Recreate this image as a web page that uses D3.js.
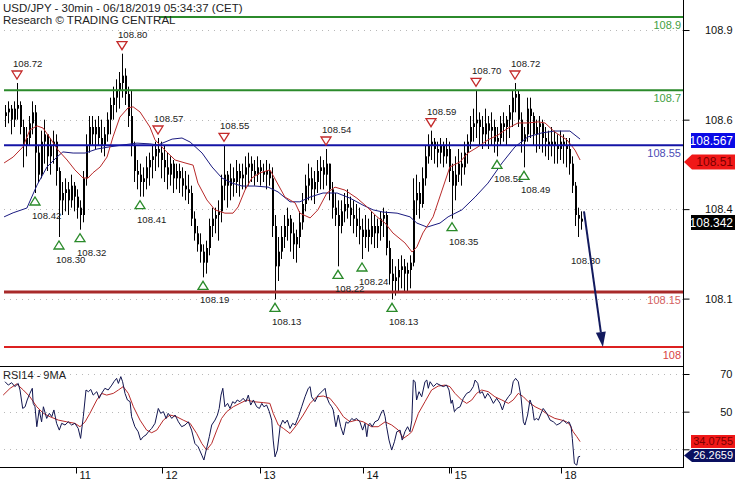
<!DOCTYPE html>
<html><head><meta charset="utf-8">
<script src="https://cdn.jsdelivr.net/npm/d3@7"></script>
<style>body{margin:0;background:#fff;} svg{display:block;font-family:"Liberation Sans",Arial,sans-serif;}</style>
</head><body><svg id="c" width="735" height="480"></svg>
<script>
// ---------- DATA ----------
const highs=[108.66,108.67,108.66,108.67,108.72,108.67,108.62,108.60,108.63,108.67,
108.66,108.55,108.59,108.62,108.58,108.57,108.59,108.58,108.49,108.45,
108.46,108.45,108.47,108.45,108.43,108.40,108.48,108.58,108.63,108.63,
108.62,108.63,108.62,108.60,108.64,108.68,108.71,108.73,108.75,108.80,
108.76,108.71,108.70,108.56,108.51,108.50,108.49,108.52,108.53,108.55,
108.56,108.57,108.56,108.55,108.53,108.52,108.51,108.50,108.50,108.49,
108.48,108.47,108.44,108.37,108.33,108.31,108.28,108.29,108.35,108.38,
108.38,108.40,108.47,108.55,108.48,108.50,108.49,108.51,108.50,108.50,
108.52,108.53,108.52,108.51,108.52,108.51,108.50,108.51,108.50,108.49,
108.36,108.30,108.33,108.36,108.38,108.36,108.34,108.32,108.37,108.42,
108.47,108.50,108.49,108.48,108.51,108.52,108.51,108.54,108.50,108.45,
108.42,108.40,108.40,108.42,108.43,108.41,108.40,108.39,108.38,108.35,
108.36,108.35,108.37,108.36,108.35,108.37,108.38,108.37,108.29,108.24,
108.22,108.24,108.25,108.24,108.23,108.25,108.46,108.47,108.45,108.49,
108.55,108.58,108.59,108.57,108.56,108.57,108.56,108.57,108.56,108.50,
108.52,108.54,108.53,108.56,108.58,108.63,108.65,108.70,108.64,108.63,
108.65,108.63,108.64,108.62,108.60,108.63,108.64,108.63,108.66,108.70,
108.72,108.70,108.64,108.60,108.68,108.68,108.64,108.62,108.63,108.62,
108.60,108.59,108.60,108.59,108.58,108.59,108.58,108.57,108.57,108.52,
108.45,108.38,108.37];
const lows=[108.60,108.61,108.58,108.60,108.62,108.58,108.49,108.52,108.55,108.58,
108.42,108.45,108.46,108.50,108.48,108.47,108.50,108.44,108.30,108.36,
108.37,108.36,108.38,108.37,108.35,108.32,108.34,108.44,108.53,108.55,
108.54,108.55,108.53,108.52,108.56,108.58,108.62,108.64,108.65,108.68,
108.66,108.60,108.52,108.45,108.43,108.41,108.41,108.43,108.44,108.46,
108.48,108.49,108.46,108.45,108.43,108.44,108.42,108.43,108.42,108.41,
108.40,108.39,108.33,108.29,108.26,108.23,108.19,108.20,108.25,108.30,
108.31,108.29,108.34,108.40,108.38,108.40,108.41,108.42,108.41,108.43,
108.43,108.44,108.45,108.44,108.45,108.44,108.45,108.43,108.44,108.30,
108.13,108.18,108.24,108.27,108.29,108.26,108.24,108.23,108.27,108.32,
108.37,108.40,108.40,108.39,108.42,108.43,108.43,108.44,108.40,108.35,
108.33,108.22,108.31,108.34,108.35,108.33,108.31,108.30,108.28,108.24,
108.27,108.26,108.28,108.27,108.27,108.29,108.30,108.25,108.17,108.13,
108.14,108.15,108.16,108.15,108.15,108.16,108.22,108.36,108.35,108.38,
108.44,108.50,108.51,108.50,108.49,108.50,108.49,108.50,108.45,108.35,
108.40,108.45,108.44,108.47,108.50,108.54,108.56,108.57,108.55,108.54,
108.55,108.54,108.55,108.53,108.52,108.55,108.56,108.55,108.57,108.60,
108.64,108.60,108.53,108.49,108.56,108.57,108.55,108.53,108.54,108.53,
108.52,108.51,108.52,108.50,108.50,108.51,108.50,108.49,108.47,108.42,
108.33,108.30,108.32];
const closes=[108.64,108.65,108.62,108.65,108.66,108.60,108.55,108.57,108.61,108.64,
108.53,108.47,108.56,108.58,108.52,108.55,108.56,108.48,108.40,108.42,
108.43,108.40,108.44,108.41,108.38,108.36,108.46,108.55,108.60,108.58,
108.60,108.57,108.55,108.58,108.62,108.66,108.68,108.70,108.72,108.74,
108.69,108.63,108.55,108.48,108.47,108.45,108.46,108.49,108.51,108.52,
108.54,108.53,108.51,108.49,108.47,108.50,108.46,108.48,108.46,108.44,
108.43,108.42,108.35,108.31,108.28,108.26,108.23,108.27,108.33,108.35,
108.36,108.37,108.44,108.47,108.44,108.46,108.45,108.48,108.46,108.47,
108.49,108.50,108.48,108.47,108.49,108.48,108.47,108.48,108.46,108.33,
108.22,108.26,108.30,108.33,108.35,108.31,108.28,108.30,108.34,108.39,
108.44,108.46,108.43,108.45,108.48,108.49,108.47,108.50,108.43,108.38,
108.36,108.33,108.37,108.39,108.38,108.36,108.35,108.33,108.32,108.30,
108.32,108.30,108.33,108.31,108.33,108.35,108.36,108.27,108.20,108.18,
108.19,108.21,108.22,108.20,108.21,108.23,108.40,108.42,108.39,108.46,
108.52,108.55,108.56,108.54,108.53,108.55,108.52,108.54,108.48,108.44,
108.47,108.50,108.49,108.53,108.56,108.60,108.61,108.62,108.60,108.58,
108.61,108.59,108.60,108.56,108.57,108.61,108.60,108.62,108.64,108.68,
108.69,108.62,108.56,108.58,108.65,108.63,108.58,108.60,108.61,108.57,
108.56,108.55,108.56,108.55,108.54,108.56,108.55,108.54,108.50,108.44,
108.36,108.35,108.342];
const firstOpen=108.63;

const maRed=[[-0.3,108.502],[2.7,108.518],[6,108.546],[8.3,108.592],[10.7,108.603],[12.7,108.597],[15,108.570],[17.7,108.537],[20.7,108.510],[23.3,108.483],[26,108.461],[27.7,108.461],[29.3,108.475],[31.7,108.491],[34,108.518],[36,108.573],[38.3,108.627],[41,108.652],[42.7,108.655],[45,108.641],[48.3,108.600],[50,108.565],[53.3,108.537],[56.7,108.510],[60,108.502],[62.7,108.496],[64.3,108.447],[67.3,108.401],[70,108.374],[73.3,108.365],[76,108.365],[77.7,108.382],[80,108.428],[82.3,108.461],[85,108.475],[88.3,108.483],[89.3,108.469],[93.3,108.409],[96.7,108.393],[98.3,108.365],[101.7,108.352],[104.3,108.374],[107.3,108.420],[110,108.436],[113.3,108.428],[117.3,108.406],[120.7,108.382],[124,108.355],[126.7,108.338],[129.3,108.311],[133.3,108.284],[135.7,108.259],[137.3,108.273],[139.3,108.311],[142.7,108.355],[145.7,108.428],[148.3,108.491],[151.7,108.505],[154.3,108.529],[157.7,108.546],[161,108.565],[164.3,108.578],[167.7,108.597],[171,108.611],[174.3,108.611],[177.7,108.614],[180,108.611],[183.3,108.586],[187.3,108.565],[190,108.537],[191.7,108.510]];
const maBlue=[[-0.3,108.355],[2.7,108.366],[7.3,108.379],[10.7,108.442],[14,108.491],[17.3,108.518],[19.3,108.532],[22.7,108.529],[26.7,108.529],[30.7,108.540],[35,108.546],[39.3,108.551],[44,108.556],[48.3,108.554],[51,108.551],[55.7,108.567],[59,108.570],[61.7,108.559],[65.7,108.529],[69,108.491],[72.3,108.461],[75.7,108.447],[79,108.439],[83.3,108.439],[87.7,108.436],[91,108.423],[95,108.396],[98.3,108.396],[101.7,108.409],[106,108.420],[110.7,108.420],[115,108.406],[119.3,108.387],[122.7,108.374],[126,108.368],[130.7,108.365],[135,108.355],[137.3,108.338],[140.7,108.327],[145,108.338],[147.7,108.355],[152.3,108.374],[156.7,108.409],[161,108.447],[165.7,108.502],[170,108.546],[174.3,108.573],[179,108.584],[183.3,108.589],[188.3,108.589],[191.7,108.567]];

const rsi=[[0,65.9],[1.1,64.1],[2.2,65.4],[3.3,63.3],[4.4,65.0],[5,61.5],[5.9,51.7],[6.7,52.6],[7.4,56.2],[8.3,59.7],[9.1,62.4],[9.4,54.4],[10,52.6],[10.6,42.0],[11.4,50.9],[12.2,44.6],[12.8,52.6],[13.9,46.4],[14.8,49.1],[15.6,47.3],[16.3,50.9],[17.2,43.8],[18.1,40.2],[18.9,43.8],[20,42.9],[21.1,44.6],[22.2,42.9],[23.3,43.8],[24.4,41.1],[25.2,35.8],[26.1,47.3],[27,61.5],[27.8,60.6],[28.6,61.8],[29.4,58.8],[30.6,60.6],[31.4,57.1],[32.2,59.7],[33.3,62.4],[34.4,61.5],[35.6,64.1],[36.3,65.9],[37.2,67.7],[37.8,65.0],[38.6,68.6],[39.2,65.9],[40,59.7],[40.8,56.2],[41.7,55.3],[42.2,47.3],[43.3,42.0],[44.4,39.3],[45.2,34.9],[46.1,36.7],[47,37.6],[47.8,39.3],[48.9,41.1],[50,43.8],[51.1,51.7],[51.9,49.1],[52.8,50.0],[53.7,46.4],[54.4,49.1],[55.6,46.4],[56.7,48.2],[57.8,44.6],[58.9,42.0],[60,42.9],[61.1,44.6],[62.2,40.2],[63.3,33.1],[64.4,31.3],[65.6,26.9],[66.3,24.3],[67.2,30.5],[68.1,36.7],[68.9,42.9],[70,45.5],[70.8,48.2],[71.4,51.7],[72,58.8],[72.6,62.4],[73.3,52.6],[74.2,54.4],[75,51.7],[75.9,55.3],[76.7,54.4],[77.4,56.2],[78.3,55.3],[79.4,57.1],[80.3,55.3],[81.1,58.8],[81.9,53.5],[82.8,56.2],[83.9,52.6],[84.8,51.7],[85.6,54.4],[86.3,52.6],[87.2,53.5],[88.1,50.0],[88.9,45.5],[89.4,34.9],[90,26.0],[90.8,29.6],[91.7,42.0],[92.6,45.5],[93.3,43.8],[94.1,45.5],[95,41.1],[95.9,43.8],[96.7,42.9],[97.8,47.3],[98.9,52.6],[100,57.9],[101.1,62.4],[101.7,63.3],[102.2,57.9],[103.3,55.3],[104.4,58.8],[105.6,60.6],[106.7,62.4],[107.2,57.9],[108.1,54.4],[108.9,52.6],[109.4,50.9],[110.3,42.0],[111.1,48.2],[111.9,42.0],[112.8,37.6],[113.7,44.6],[114.4,43.8],[115.6,46.4],[116.3,45.5],[117.2,46.4],[118.3,44.6],[119.2,40.2],[120,43.8],[120.6,36.7],[121.1,42.9],[121.7,43.8],[122.4,42.0],[123.3,44.6],[124.4,45.5],[125.6,50.0],[126.1,50.9],[126.7,47.3],[127.2,42.0],[128,34.9],[128.9,29.6],[129.8,34.0],[130.6,39.3],[131.7,40.2],[132.4,34.9],[133.3,39.3],[134.2,42.0],[135,39.3],[135.6,45.5],[136.1,66.8],[136.7,65.9],[137.2,56.2],[138,60.6],[138.9,57.9],[140,65.9],[140.6,66.8],[141.1,62.4],[141.7,65.9],[142.8,63.3],[143.9,65.0],[145,64.1],[146.1,63.3],[147.2,64.1],[148,61.5],[148.7,54.4],[149.1,56.2],[149.8,50.0],[150.6,51.7],[151.7,52.6],[152.8,57.1],[153.9,59.7],[155,60.6],[156.1,63.3],[156.7,66.8],[157.6,65.0],[158.3,59.7],[159.1,60.6],[160,57.1],[160.9,59.7],[161.7,57.9],[162.8,54.4],[163.9,57.1],[165,54.4],[165.8,50.9],[166.7,55.3],[167.8,57.9],[168.7,59.7],[169.4,65.9],[170.2,67.7],[171.1,65.9],[172,57.9],[172.8,44.6],[173.3,42.9],[174.2,48.2],[175,56.2],[175.8,52.6],[176.4,45.5],[177.2,46.4],[177.8,45.5],[178.7,49.1],[179.4,51.7],[180.6,49.1],[181.7,45.5],[182.8,44.6],[183.9,42.9],[185,43.8],[186.1,45.5],[187.2,43.8],[188,44.6],[188.7,42.0],[189.1,35.8],[189.8,22.5],[190.6,21.6],[191.1,26.0],[191.7,26.27]];
const rsiMA=[[-0.6,58.8],[1.7,62.4],[3.9,64.7],[6.1,61.5],[8.3,57.9],[10.6,52.6],[12.8,49.1],[15,47.3],[17.8,45.5],[20.6,44.6],[23.3,43.8],[25,42.0],[26.7,44.6],[28.3,49.1],[30.6,56.2],[32.2,59.7],[33.9,58.8],[36.1,59.7],[37.8,61.5],[39.4,63.3],[41.1,59.7],[42.8,52.6],[45,45.5],[47.2,40.2],[48.9,38.8],[50.6,40.2],[52.8,45.5],[55,48.2],[57.2,47.3],[59.4,45.5],[61.7,43.8],[63.9,38.4],[65.6,33.1],[67.2,29.6],[68.9,33.1],[70.6,40.2],[72.2,46.4],[73.9,50.0],[76.1,52.6],[78.3,54.4],[80.6,56.2],[82.8,55.3],[86.1,54.8],[88.3,54.4],[89.4,49.1],[91.1,42.9],[92.8,41.1],[95,38.4],[97.2,42.9],[99.4,48.2],[101.7,54.4],[103.9,57.9],[106.1,58.3],[108.3,57.1],[110.6,52.6],[112.8,47.3],[115,44.6],[117.2,45.5],[119.4,44.6],[122.2,42.0],[124.4,42.0],[126.7,44.6],[128.9,42.9],[131.1,40.2],[132.8,35.8],[134.4,37.6],[135.6,39.3],[137.8,49.1],[140,55.3],[142.2,61.5],[144.4,63.6],[146.7,64.1],[148.3,63.3],[150,59.7],[152.2,56.2],[153.9,54.4],[155.6,56.2],[157.2,59.7],[158.9,61.5],[161.1,60.6],[163.3,57.9],[165.6,56.2],[167.8,54.4],[169.4,56.2],[171.1,59.7],[172.8,57.9],[174.4,55.3],[176.7,52.6],[178.9,50.9],[181.1,48.2],[183.3,46.4],[185.6,45.5],[187.2,44.6],[188.3,42.9],[189.4,39.3],[190.6,36.7],[191.7,34.08]];

const priceTicks=[108.8645,108.62,108.376,108.132];
const rsiTicks=[70,50,30];
const rsiTickLabels=["70","50",""];   // "30" is hidden behind the value boxes in the reference
const levels=[108.9,108.7,108.55,108.15,108];
const levelLabels=["108.9","108.7","108.55","108.15","108"];
const highMarks=[[4,108.72],[39,108.80],[51,108.57],[73,108.55],[107,108.54],[142,108.59],[157,108.70],[170,108.72]];
const lowMarks=[[10,108.42],[18,108.30],[25,108.32],[45,108.41],[66,108.19],[90,108.13],[111,108.22],[119,108.24],[129,108.13],[149,108.35],[164,108.52],[173,108.49]];
const lastLowLabel=[190,108.30];
const targetArrow=[[193,108.37],[199.3,108.0]];
const dayTicks=[23.67,52.33,85,119.33,148.67,185.33];
const dayLabels=["11","12","13","14","15","18"];
const gapTick=148;
const lastBlueMA=108.567, lastRedMA=108.51, lastClose=108.342;
const lastRsi=26.2659, lastRsiMA=34.0755;
const title1="USD/JPY - 30min - 06/18/2019 05:34:37 (CET)";
const title2="Research \u00A9 TRADING CENTRAL";

// ---------- STYLES ----------
const levelColors=["#2b8a2b","#2b8a2b","#1414a6","#a82a2a","#dc2020"];
const levelText=["#43a043","#43a043","#4b4bb5","#d46060","#d84545"];
const levelWidth=[2,2,2,3,2];

// ---------- DRAW ----------
const svg=d3.select("#c");
const x=d3.scaleLinear().domain([0,192]).range([5,581]);
const y=d3.scaleLinear().domain([108,108.9]).range([347,17]);
const ry=d3.scaleLinear().domain([30,70]).range([449.3,374]);
const AX=683;

// grid
svg.append("g").selectAll("line").data(priceTicks).join("line")
  .attr("x1",4).attr("x2",AX).attr("y1",d=>Math.round(y(d))+0.5).attr("y2",d=>Math.round(y(d))+0.5)
  .attr("stroke","#b8b8b8").attr("stroke-dasharray","1,5");
svg.append("g").selectAll("line").data(rsiTicks).join("line")
  .attr("x1",4).attr("x2",AX).attr("y1",d=>Math.round(ry(d))+0.5).attr("y2",d=>Math.round(ry(d))+0.5)
  .attr("stroke","#b8b8b8").attr("stroke-dasharray","1,5");

// bars
const opens=closes.map((c,i)=>i===0?firstOpen:closes[i-1]);
const bars=svg.append("g");
bars.selectAll("line").data(highs).join("line")
  .attr("x1",(d,i)=>Math.round(x(i))+0.5).attr("x2",(d,i)=>Math.round(x(i))+0.5)
  .attr("y1",d=>y(d)).attr("y2",(d,i)=>y(lows[i])).attr("stroke","#000").attr("stroke-width",1);
bars.selectAll("rect").data(closes).join("rect")
  .attr("x",(d,i)=>Math.round(x(i))).attr("width",2)
  .attr("y",(d,i)=>Math.min(y(d),y(opens[i])))
  .attr("height",(d,i)=>Math.max(1.5,Math.abs(y(d)-y(opens[i])))).attr("fill","#000");

// moving averages
const pl=d3.line().x(d=>x(d[0])).y(d=>y(d[1]));
svg.append("path").attr("d",pl(maBlue)).attr("fill","none").attr("stroke","#1a1a80").attr("stroke-width",1);
svg.append("path").attr("d",pl(maRed)).attr("fill","none").attr("stroke","#b82a2a").attr("stroke-width",1);

// level lines
levels.forEach((lv,k)=>{
  svg.append("line").attr("x1",4).attr("x2",AX).attr("y1",y(lv)).attr("y2",y(lv))
    .attr("stroke",levelColors[k]).attr("stroke-width",levelWidth[k]);
  svg.append("text").attr("x",681).attr("y",y(lv)+12).attr("text-anchor","end")
    .attr("font-size",11).attr("fill",levelText[k]).text(levelLabels[k]);
});

// markers
const mk=svg.append("g");
highMarks.forEach(([i,v])=>{
  const cx=x(i), cy=y(v);
  mk.append("path").attr("d",`M${cx-5},${cy-12}L${cx+5},${cy-12}L${cx},${cy-4}Z`)
    .attr("fill","#fff").attr("stroke","#c42a2a").attr("stroke-width",1.3);
  mk.append("text").attr("x",cx-4).attr("y",cy-16).attr("font-size",9.6).attr("fill","#222").text(v.toFixed(2));
});
lowMarks.forEach(([i,v])=>{
  const cx=x(i), cy=y(v);
  mk.append("path").attr("d",`M${cx-5},${cy+12}L${cx+5},${cy+12}L${cx},${cy+4}Z`)
    .attr("fill","#fff").attr("stroke","#2a8a2a").attr("stroke-width",1.3);
  mk.append("text").attr("x",cx-3).attr("y",cy+26).attr("font-size",9.6).attr("fill","#222").text(v.toFixed(2));
});
mk.append("text").attr("x",x(lastLowLabel[0])-4).attr("y",y(lastLowLabel[1])+27).attr("font-size",9.6).attr("fill","#222").text(lastLowLabel[1].toFixed(2));

// target arrow
const a0=[x(targetArrow[0][0]),y(targetArrow[0][1])], a1=[x(targetArrow[1][0]),y(targetArrow[1][1])];
const ang=Math.atan2(a1[1]-a0[1],a1[0]-a0[0]);
const hb=[a1[0]-15*Math.cos(ang),a1[1]-15*Math.sin(ang)];
svg.append("line").attr("x1",a0[0]).attr("y1",a0[1]).attr("x2",hb[0]).attr("y2",hb[1]).attr("stroke","#121a5e").attr("stroke-width",2);
const px=-Math.sin(ang)*5, py=Math.cos(ang)*5;
svg.append("path").attr("d",`M${a1[0]},${a1[1]}L${hb[0]+px},${hb[1]+py}L${hb[0]-px},${hb[1]-py}Z`).attr("fill","#121a5e");

// header
svg.append("rect").attr("x",0).attr("y",0).attr("width",159).attr("height",26).attr("fill","#fff");
svg.append("text").attr("x",3).attr("y",12).attr("font-size",11.5).attr("fill","#222").text(title1);
svg.append("text").attr("x",3).attr("y",24).attr("font-size",11.5).attr("fill","#222").text(title2);

// rsi
const rl=d3.line().x(d=>x(d[0])).y(d=>ry(d[1]));
svg.append("path").attr("d",rl(rsiMA)).attr("fill","none").attr("stroke","#b82a2a").attr("stroke-width",1);
svg.append("path").attr("d",rl(rsi)).attr("fill","none").attr("stroke","#121650").attr("stroke-width",1);
svg.append("text").attr("x",3).attr("y",379).attr("font-size",11).attr("fill","#222").text("RSI14 - 9MA");

// frame lines
svg.append("line").attr("x1",0).attr("x2",AX).attr("y1",366.5).attr("y2",366.5).attr("stroke","#000");
svg.append("line").attr("x1",0).attr("x2",AX).attr("y1",467.5).attr("y2",467.5).attr("stroke","#000");
svg.append("line").attr("x1",AX+0.5).attr("x2",AX+0.5).attr("y1",0).attr("y2",468).attr("stroke","#000");

// right axes
const ya=svg.append("g").attr("transform",`translate(${AX+0.5},0)`)
  .call(d3.axisRight(y).tickValues(priceTicks).tickFormat(d3.format(".1f")).tickSize(6));
ya.select(".domain").remove();
ya.selectAll("text").attr("x",49).attr("text-anchor","end").attr("font-size",11).attr("font-family","Liberation Sans, Arial, sans-serif").attr("fill","#111");
const ra=svg.append("g").attr("transform",`translate(${AX+0.5},0)`)
  .call(d3.axisRight(ry).tickValues(rsiTicks).tickFormat((d,i)=>rsiTickLabels[i]).tickSize(6));
ra.select(".domain").remove();
ra.selectAll("text").attr("x",49).attr("text-anchor","end").attr("font-size",11).attr("font-family","Liberation Sans, Arial, sans-serif").attr("fill","#111");

// bottom axis
const xa=svg.append("g").attr("transform","translate(0,467.5)")
  .call(d3.axisBottom(x).tickValues(dayTicks).tickFormat((d,i)=>dayLabels[i]).tickSize(6));
xa.select(".domain").remove();
xa.selectAll("text").attr("text-anchor","start").attr("x",3).attr("y",4).attr("dy","0.71em").attr("font-size",11).attr("font-family","Liberation Sans, Arial, sans-serif").attr("fill","#111");
svg.append("line").attr("x1",Math.round(x(gapTick))+0.5).attr("x2",Math.round(x(gapTick))+0.5).attr("y1",467.5).attr("y2",473.5).attr("stroke","#000");

// value boxes
function box(v,yy,h,fs,bg,fg,arrow,fmt){
  const t=yy-h/2,b=yy+h/2;
  const d=arrow?`M684,${yy}L692,${t}L735,${t}L735,${b}L692,${b}Z`:`M691,${t}L735,${t}L735,${b}L691,${b}Z`;
  svg.append("path").attr("d",d).attr("fill",bg);
  svg.append("text").attr("x",733).attr("y",yy+fs*0.36).attr("text-anchor","end").attr("font-size",fs).attr("fill",fg).text(fmt(v));
}
box(lastBlueMA,y(lastBlueMA)+1.5,15,12,"#0a0ae6","#fff",false,d3.format(".3f"));
box(lastRedMA,y(lastRedMA)+2,15,12,"#f01818","#7a0000",true,d3.format(".2f"));
box(lastClose,y(lastClose)+1,15,12,"#000","#fff",false,d3.format(".3f"));
box(lastRsiMA,441.5,13,11,"#f01818","#7a0000",false,d3.format(".4f"));
box(lastRsi,455.5,13,11,"#0a1060","#fff",true,d3.format(".4f"));
</script></body></html>
